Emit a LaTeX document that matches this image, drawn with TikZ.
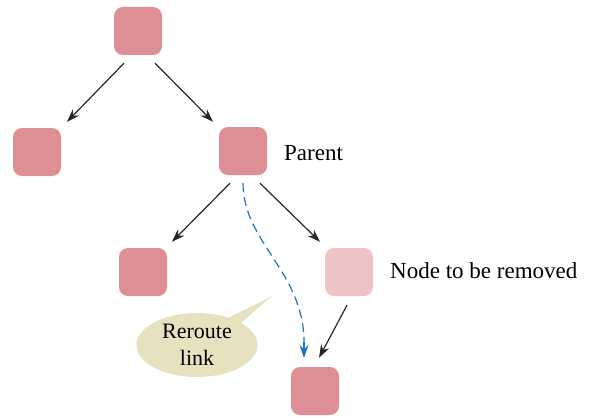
\documentclass[tikz,border=0pt]{standalone}
\usepackage{fontspec}
\setmainfont{Liberation Serif}
\usetikzlibrary{arrows.meta,shapes.callouts,calc}
\definecolor{nodepink}{HTML}{DE8F96}
\definecolor{nodelight}{HTML}{EDC3C5}
\definecolor{calloutfill}{HTML}{E6E1BF}
\definecolor{linkblue}{HTML}{1E73BE}
\begin{document}
\begin{tikzpicture}[x=1pt,y=-1pt,
  treenode/.style={draw=none,fill=nodepink,rounded corners=9pt,minimum size=48pt,inner sep=0pt},
  lightnode/.style={treenode,fill=nodelight},
  edge/.style={draw=black!85,line width=1.2pt,-{Stealth[length=13pt,width=9pt]}},
  lbl/.style={font=\fontsize{23}{26}\selectfont,anchor=west,inner sep=0pt},
]
\useasboundingbox (0,0) rectangle (593,417);
\node[treenode] (root) at (138,31) {};
\node[treenode] (lc) at (37,152) {};
\node[treenode] (par) at (243,151) {};
\node[treenode] (lg) at (143,272) {};
\node[lightnode] (rem) at (349,272) {};
\node[treenode] (bot) at (315,391) {};
\node[lbl] (parlbl) at (284,153) {Parent};
\node[lbl] (remlbl) at (390,271) {Node to be removed};
\draw[edge] ($(root.south)+(-14,8)$) -- ($(lc.north)+(30,-6)$);
\draw[edge] ($(root.south)+(17,8)$) -- ($(par.north)+(-30,-5)$);
\draw[edge] ($(par.south)+(-13,8)$) -- ($(lg.north)+(29,-6)$);
\draw[edge] ($(par.south)+(17,8)$) -- ($(rem.north)+(-29,-6)$);
\draw[edge] ($(rem.south)+(-2,9)$) -- ($(bot.north)+(4,-9)$);
\coordinate (ds) at ($(par.south)+(0,8)$);
\coordinate (dm) at (304,342);
\coordinate (de) at (304,358);
\draw[linkblue,line width=1.2pt,dash pattern=on 9pt off 5pt]
  (ds) .. controls (243,242) and (304,272) .. (dm);
\draw[linkblue,line width=1.2pt,-{Stealth[length=13pt,width=9pt]}] (dm) -- (de);
\node[ellipse callout,fill=calloutfill,minimum width=121pt,minimum height=64pt,inner sep=0pt,
  callout absolute pointer={(272,296)},align=center,font=\fontsize{22}{27}\selectfont] (call) at (197,345) {Reroute\\link};
\end{tikzpicture}
\end{document}
